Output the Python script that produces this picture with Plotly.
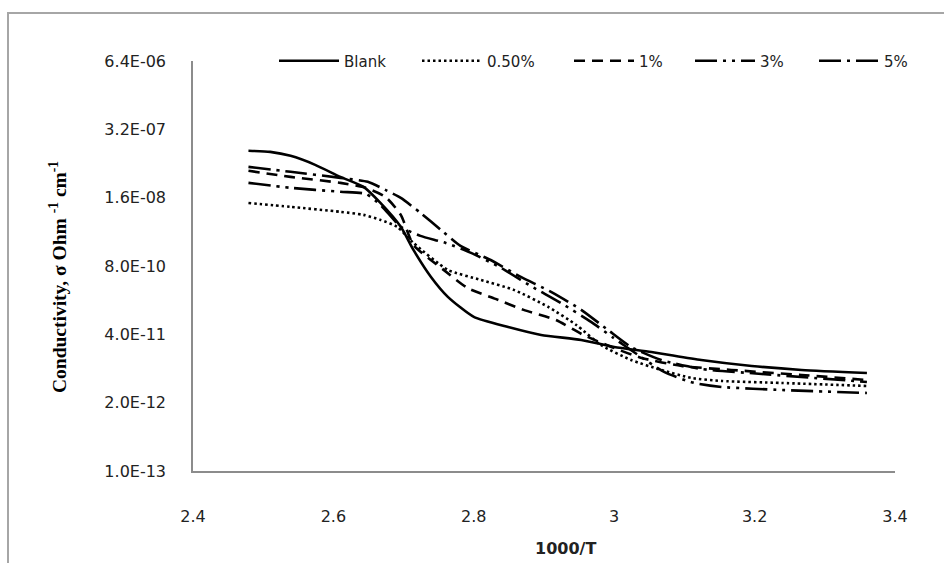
import plotly.graph_objects as go

# 1000/T values and conductivity (Ohm^-1 cm^-1) for each sample
x_blank = [2.479, 2.510, 2.539, 2.574, 2.610, 2.643, 2.667, 2.696, 2.714, 2.739,
           2.763, 2.800, 2.849, 2.896, 2.953, 3.000, 3.053, 3.124, 3.196, 3.267, 3.360]
y_blank = [1.25e-7, 1.19e-7, 1.0e-7, 6.75e-8, 3.98e-8, 2.57e-8, 1.27e-8, 4.45e-9, 1.62e-9, 4.95e-10,
           2.07e-10, 8.6e-11, 5.53e-11, 3.90e-11, 3.13e-11, 2.30e-11, 1.85e-11, 1.30e-11, 1.0e-11, 8.4e-12, 7.36e-12]

x_050 = [2.479, 2.539, 2.610, 2.643, 2.667, 2.691, 2.714, 2.763, 2.810, 2.857,
         2.906, 2.946, 2.981, 3.024, 3.067, 3.110, 3.153, 3.239, 3.360]
y_050 = [1.27e-8, 1.07e-8, 8.6e-9, 7.53e-9, 6.04e-9, 4.45e-9, 2.20e-9, 6.75e-10, 4.35e-10, 2.81e-10,
         1.33e-10, 6.04e-11, 2.51e-11, 1.30e-11, 8.4e-12, 5.9e-12, 5.18e-12, 4.74e-12, 4.16e-12]

x_1 = [2.479, 2.539, 2.610, 2.646, 2.674, 2.696, 2.714, 2.757, 2.791, 2.831,
       2.871, 2.917, 2.956, 2.996, 3.039, 3.096, 3.167, 3.267, 3.360]
y_1 = [5.19e-8, 3.98e-8, 3.06e-8, 2.46e-8, 1.66e-8, 7.53e-9, 2.02e-9, 6.75e-10, 3.06e-10, 1.89e-10,
       1.17e-10, 7.52e-11, 3.90e-11, 2.30e-11, 1.42e-11, 1.0e-11, 8.4e-12, 6.74e-12, 5.41e-12]

x_3 = [2.479, 2.539, 2.610, 2.646, 2.667, 2.696, 2.724, 2.760, 2.796, 2.839,
       2.881, 2.924, 2.967, 2.999, 3.034, 3.071, 3.114, 3.153, 3.239, 3.360]
y_3 = [3.06e-8, 2.46e-8, 2.07e-8, 1.89e-8, 1.17e-8, 4.45e-9, 3.00e-9, 2.20e-9, 1.42e-9, 7.36e-10,
       3.34e-10, 1.58e-10, 6.89e-11, 3.42e-11, 1.62e-11, 7.69e-12, 4.74e-12, 3.98e-12, 3.49e-12, 3.06e-12]

x_5 = [2.479, 2.539, 2.610, 2.649, 2.674, 2.696, 2.724, 2.753, 2.781, 2.824,
       2.867, 2.910, 2.953, 2.991, 3.024, 3.067, 3.124, 3.210, 3.360]
y_5 = [6.18e-8, 4.97e-8, 3.81e-8, 3.20e-8, 2.25e-8, 1.58e-8, 8.22e-9, 3.90e-9, 1.93e-9, 1.04e-9,
       4.95e-10, 2.57e-10, 1.17e-10, 4.85e-11, 2.30e-11, 1.30e-11, 8.77e-12, 7.05e-12, 4.96e-12]

y_ticks = [1.0e-13, 2.0e-12, 4.0e-11, 8.0e-10, 1.6e-8, 3.2e-7, 6.4e-6]
y_tick_text = ["1.0E-13", "2.0E-12", "4.0E-11", "8.0E-10", "1.6E-08", "3.2E-07", "6.4E-06"]
x_ticks = [2.4, 2.6, 2.8, 3.0, 3.2, 3.4]
x_tick_text = ["2.4", "2.6", "2.8", "3", "3.2", "3.4"]

series = [
    ("Blank", x_blank, y_blank, "solid"),
    ("0.50%", x_050, y_050, "2.5px,3px"),
    ("1%", x_1, y_1, "11px,7px"),
    ("3%", x_3, y_3, "22px,6px,3px,6px,3px,6px"),
    ("5%", x_5, y_5, "22px,6px,3px,6px"),
]

W, H = 944, 563
L, R, T, B = 193, 49, 61, 92
pw, ph = W - L - R, H - T - B

# one legend box per series, laid out in a single row above the curves
legend_left_px = [274, 417, 569, 690, 814]
legend_names = ["legend", "legend2", "legend3", "legend4", "legend5"]

fig = go.Figure()
for (name, xs, ys, dash), lg in zip(series, legend_names):
    fig.add_trace(go.Scatter(
        x=xs, y=ys, name=name, mode="lines", legend=lg,
        line=dict(color="black", width=2.6, dash=dash, shape="spline", smoothing=0.6),
    ))

legend_layouts = {}
for lg, left in zip(legend_names, legend_left_px):
    legend_layouts[lg] = dict(
        orientation="h", x=(left - L) / pw, y=1.0, xanchor="left", yanchor="middle",
        font=dict(family="DejaVu Sans", size=15, color="#222222"),
        bgcolor="rgba(0,0,0,0)", itemwidth=60,
    )

fig.update_layout(
    width=W, height=H,
    margin=dict(l=L, r=R, t=T, b=B, pad=0),
    paper_bgcolor="white", plot_bgcolor="white",
    font=dict(family="DejaVu Sans", size=16, color="#222222"),
    showlegend=True,
    **legend_layouts,
    xaxis=dict(
        range=[2.4, 3.4], tickvals=x_ticks, ticktext=x_tick_text,
        showgrid=False, zeroline=False, showline=True, linecolor="#8c8c8c", linewidth=1.5,
        ticks="", ticklabelstandoff=30, tickfont=dict(size=16),
    ),
    yaxis=dict(
        type="log", range=[-13, 0.80618 - 6], tickvals=y_ticks, ticktext=y_tick_text,
        showgrid=False, zeroline=False, showline=True, linecolor="#8c8c8c", linewidth=1.5,
        ticks="", ticklabelstandoff=22, tickfont=dict(size=16),
    ),
    shapes=[dict(
        type="rect", xref="paper", yref="paper",
        x0=(8 - L) / pw, x1=(W + 10 - L) / pw,
        y0=-(H + 10 - (T + ph)) / ph, y1=(T + ph - 13) / ph,
        line=dict(color="#a6a6a6", width=2), fillcolor="rgba(0,0,0,0)", layer="below",
    )],
    annotations=[
        dict(
            text="Conductivity, σ Ohm <sup>-1</sup> cm<sup>-1</sup>",
            xref="paper", yref="paper", x=(58 - L) / pw, y=(T + ph - 277) / ph,
            textangle=-90, showarrow=False, xanchor="center", yanchor="middle",
            font=dict(family="Liberation Serif", size=19.5, color="black", weight="bold"),
        ),
        dict(
            text="<b>1000/T</b>", xref="paper", yref="paper",
            x=(565 - L) / pw, y=-(548 - (T + ph)) / ph,
            showarrow=False, xanchor="center", yanchor="middle",
            font=dict(family="DejaVu Sans", size=16, color="#222222"),
        ),
    ],
)

fig.write_html("out.html")
